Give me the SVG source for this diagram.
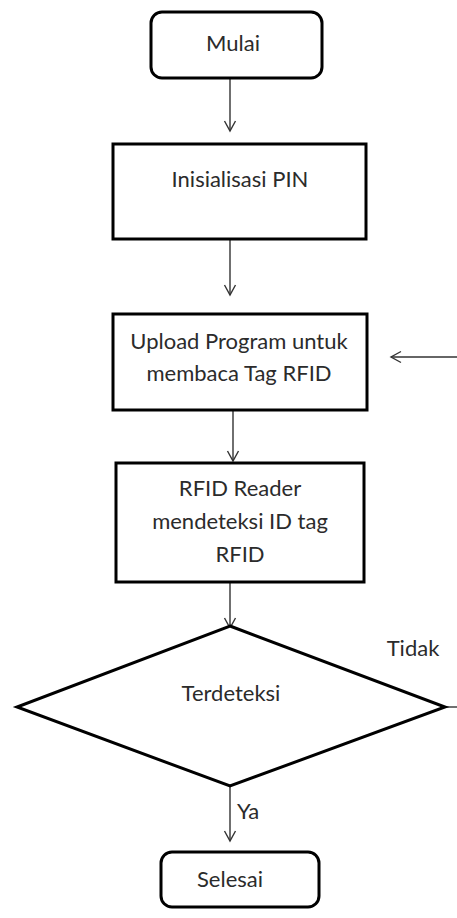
<svg xmlns="http://www.w3.org/2000/svg" width="457" height="918" viewBox="0 0 457 918">
  <defs>
    <marker id="open-arrow" markerWidth="14" markerHeight="14" refX="12" refY="7" orient="auto" markerUnits="userSpaceOnUse">
      <path d="M2,1.5 L12,7 L2,12.5" fill="none" stroke="#333" stroke-width="1.4"/>
    </marker>
    <style>
      .shape { fill: #fff; stroke: #000; stroke-width: 3; }
      .link { fill: none; stroke: #333; stroke-width: 1.4; }
      .arrow { marker-end: url(#open-arrow); }
      text { font-family: "Lato", "Open Sans", sans-serif; font-size: 22px; fill: #2b2b2b; text-anchor: middle; dominant-baseline: central; }
    </style>
  </defs>
  <rect width="457" height="918" fill="#fff"/>

  <g id="connectors">
    <line class="link arrow" x1="230" y1="78" x2="230" y2="131"/>
    <line class="link arrow" x1="230" y1="239" x2="230" y2="295"/>
    <line class="link arrow" x1="457" y1="357" x2="391" y2="357"/>
    <line class="link arrow" x1="233" y1="410" x2="233" y2="461"/>
    <line class="link arrow" x1="230" y1="582" x2="230" y2="628"/>
    <line class="link" x1="445" y1="707" x2="457" y2="707"/>
    <line class="link arrow" x1="230" y1="786" x2="230" y2="841"/>
    <text x="413" y="647">Tidak</text>
    <text x="248" y="810">Ya</text>
  </g>

  <g id="mulai">
    <rect class="shape" x="151" y="12" width="171" height="66" rx="11"/>
    <text x="233" y="42">Mulai</text>
  </g>

  <g id="inisialisasi">
    <rect class="shape" x="113" y="144" width="253" height="95"/>
    <text x="240" y="178">Inisialisasi PIN</text>
  </g>

  <g id="upload">
    <rect class="shape" x="113" y="314" width="254" height="96"/>
    <text x="239" y="340">Upload Program untuk</text>
    <text x="239" y="372">membaca Tag RFID</text>
  </g>

  <g id="rfid-reader">
    <rect class="shape" x="116" y="463" width="248" height="119"/>
    <text x="240" y="487">RFID Reader</text>
    <text x="240" y="520">mendeteksi ID tag</text>
    <text x="240" y="553">RFID</text>
  </g>

  <g id="terdeteksi">
    <polygon class="shape" points="230,626 445,707 230,786 17,707"/>
    <text x="231" y="692">Terdeteksi</text>
  </g>

  <g id="selesai">
    <rect class="shape" x="161" y="852" width="158" height="55" rx="11"/>
    <text x="230" y="878">Selesai</text>
  </g>
</svg>
